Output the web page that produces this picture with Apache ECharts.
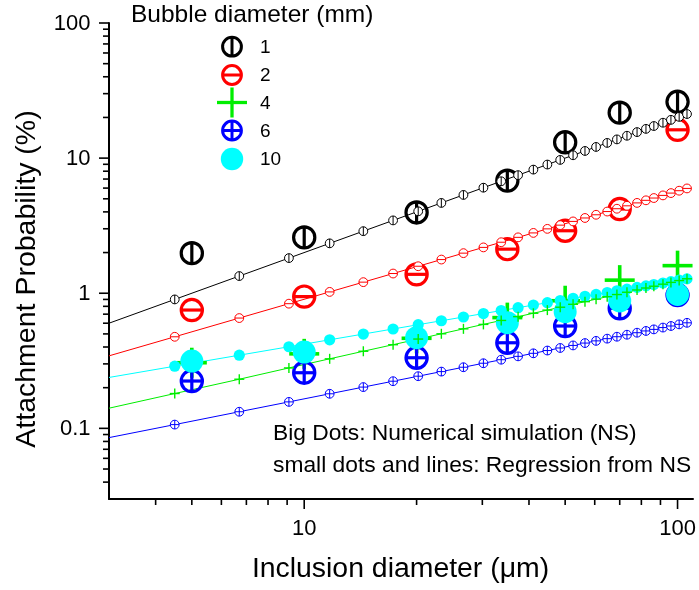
<!DOCTYPE html>
<html>
<head>
<meta charset="utf-8">
<script src="https://cdn.jsdelivr.net/npm/echarts@6/dist/echarts.min.js"></script>
<style>
  html, body { margin: 0; padding: 0; background: #fff; }
  #chart { width: 699px; height: 590px; }
</style>
</head>
<body>
<div id="chart"></div>
<script>
const FONT = '"Liberation Sans", Arial, Helvetica, sans-serif';

// Axis ranges
const X_MIN = 3, X_MAX = 110;
const Y_MIN = 0.03, Y_MAX = 100;

// Tick values and labels
const xMajorTicks = [10, 100];
const xMajorLabels = ['10', '100'];
const xMinorTicks = [4, 5, 6, 7, 8, 9, 20, 30, 40, 50, 60, 70, 80, 90];
const yMajorTicks = [0.1, 1, 10, 100];
const yMajorLabels = ['0.1', '1', '10', '100'];
const yMinorTicks = [0.04, 0.05, 0.06, 0.07, 0.08, 0.09,
                     0.2, 0.3, 0.4, 0.5, 0.6, 0.7, 0.8, 0.9,
                     2, 3, 4, 5, 6, 7, 8, 9,
                     20, 30, 40, 50, 60, 70, 80, 90];

// Bubble diameters (mm)
const bubbleNames = ['1', '2', '4', '6', '10'];

// Numerical simulation: inclusion diameter (µm) and attachment probability (%)
const nsX = [5, 10, 20, 35, 50, 70, 100];
const ns1 = [1.98, 2.59, 3.96, 6.81, 13.1, 21.7, 26.1];
const ns2 = [0.751, 0.944, 1.38, 2.12, 2.90, 4.20, 16.2];
const ns4 = [0.306, 0.356, 0.464, 0.66, 0.88, 1.25, 1.6];
const ns6 = [0.224, 0.258, 0.333, 0.430, 0.572, 0.774, 0.97];
const ns10 = [0.315, 0.367, 0.469, 0.605, 0.73, 0.877, 0.98];

// Regression from the simulation: sample points along each curve
const regX = [4.5, 6.7, 9.1, 11.7, 14.4, 17.3, 20.2, 23.3, 26.7, 30.2, 33.7, 37.4, 41.1, 44.8,
              48.5, 52.5, 56.5, 60.5, 64.8, 68.8, 73.2, 77.9, 82.3, 86.4, 91.4, 96.0, 101, 106];
const reg1 = [0.9, 1.34, 1.82, 2.34, 2.88, 3.46, 4.04, 4.66, 5.34, 6.04, 6.74, 7.48, 8.22, 8.96,
              9.7, 10.5, 11.3, 12.1, 12.96, 13.76, 14.64, 15.58, 16.46, 17.28, 18.28, 19.2, 20.2, 21.2];
const reg2 = [0.476, 0.655, 0.837, 1.023, 1.208, 1.399, 1.584, 1.775, 1.980, 2.184, 2.385, 2.592, 2.795, 2.995,
              3.191, 3.400, 3.606, 3.808, 4.023, 4.221, 4.436, 4.662, 4.872, 5.065, 5.298, 5.510, 5.739, 5.965];
const reg4 = [0.181, 0.231, 0.280, 0.327, 0.372, 0.416, 0.458, 0.501, 0.545, 0.588, 0.629, 0.671, 0.711, 0.750,
              0.788, 0.828, 0.866, 0.904, 0.943, 0.978, 1.017, 1.057, 1.093, 1.127, 1.167, 1.203, 1.241, 1.279];
const reg6 = [0.1066, 0.1327, 0.157, 0.1802, 0.202, 0.2233, 0.2432, 0.263, 0.2834, 0.3033, 0.3221, 0.3411, 0.3592, 0.3766,
              0.3934, 0.4109, 0.4277, 0.4441, 0.4611, 0.4766, 0.4931, 0.5103, 0.5259, 0.5401, 0.557, 0.5722, 0.5884, 0.6042];
const reg10 = [0.2884, 0.3479, 0.4018, 0.4523, 0.4988, 0.5438, 0.585, 0.6256, 0.6671, 0.707, 0.7444, 0.7818, 0.8173, 0.8512,
               0.8836, 0.9172, 0.9495, 0.9806, 1.0129, 1.0419, 1.0727, 1.1046, 1.1336, 1.1599, 1.191, 1.2188, 1.2483, 1.2771];
// Where each regression line meets the left axis (x = X_MIN)
const regAtXMin = [0.6, 0.344, 0.141, 0.0854, 0.238];

const colors = ['#000000', '#ff0000', '#00ee00', '#0000ff', '#00ffff'];
const kinds = ['vbar', 'hbar', 'plus', 'cross', 'dot'];
const nsData = [ns1, ns2, ns4, ns6, ns10];
const regData = [reg1, reg2, reg4, reg6, reg10];

// Symbol sizes
const BIG = { r: 10.6, lw: 3.2, arm: 15, lwPlus: 3.6, dotR: 11.5, fill: 'none' };
const SMALL = { r: 4.4, lw: 1, arm: 5, lwPlus: 1.4, dotR: 5.6, fill: '#ffffff' };
const LEG = { r: 9.4, lw: 3, arm: 15, lwPlus: 3.3, dotR: 11.2, fill: 'none' };

function drawSymbol(kind, cx, cy, color, s) {
  const out = [];
  if (kind === 'dot') {
    out.push({ type: 'circle', shape: { cx, cy, r: s.dotR }, style: { fill: color, stroke: null } });
    return out;
  }
  const lw = kind === 'plus' ? s.lwPlus : s.lw;
  if (kind !== 'plus') {
    out.push({ type: 'circle', shape: { cx, cy, r: s.r }, style: { fill: s.fill, stroke: color, lineWidth: s.lw } });
  }
  const h = kind === 'plus' ? s.arm : s.r;
  if (kind === 'vbar' || kind === 'plus' || kind === 'cross') {
    out.push({ type: 'line', shape: { x1: cx, y1: cy - h, x2: cx, y2: cy + h }, style: { stroke: color, lineWidth: lw } });
  }
  if (kind === 'hbar' || kind === 'plus' || kind === 'cross') {
    out.push({ type: 'line', shape: { x1: cx - h, y1: cy, x2: cx + h, y2: cy }, style: { stroke: color, lineWidth: lw } });
  }
  return out;
}

function markerSeries(xs, ys, kind, color, size, z) {
  return {
    type: 'custom', silent: true, animation: false, z: z,
    data: xs.map((x, i) => [x, ys[i]]),
    renderItem: (params, api) => {
      const p = api.coord([api.value(0), api.value(1)]);
      return { type: 'group', children: drawSymbol(kind, p[0], p[1], color, size) };
    }
  };
}

function tickSeries(values, labels, isX, len) {
  return {
    type: 'custom', silent: true, animation: false, z: 10,
    data: values.map(v => isX ? [v, Y_MIN] : [X_MIN, v]),
    renderItem: (params, api) => {
      const c = api.coord([api.value(0), api.value(1)]);
      const kids = [];
      if (isX) {
        kids.push({ type: 'line', shape: { x1: c[0], y1: c[1], x2: c[0], y2: c[1] + len }, style: { stroke: '#000', lineWidth: 1.6 } });
      } else {
        kids.push({ type: 'line', shape: { x1: c[0] - len, y1: c[1], x2: c[0], y2: c[1] }, style: { stroke: '#000', lineWidth: 1.6 } });
      }
      if (labels) {
        const t = labels[params.dataIndex];
        kids.push(isX
          ? { type: 'text', x: c[0], y: c[1] + 29.5, style: { text: t, fontSize: 22, fontFamily: FONT, fill: '#000', align: 'center', verticalAlign: 'middle' } }
          : { type: 'text', x: c[0] - 18.5, y: c[1] + 1, style: { text: t, fontSize: 22, fontFamily: FONT, fill: '#000', align: 'right', verticalAlign: 'middle' } });
      }
      return { type: 'group', children: kids };
    }
  };
}

const series = [];
// Regression lines
for (let k = 0; k < 5; k++) {
  series.push({
    type: 'line', silent: true, animation: false, z: 2,
    symbol: 'none',
    data: [[X_MIN, regAtXMin[k]]].concat(regX.map((x, i) => [x, regData[k][i]])),
    lineStyle: { color: colors[k], width: 1 }
  });
}
// Simulation points (big symbols)
for (let k = 0; k < 5; k++) {
  series.push(markerSeries(nsX, nsData[k], kinds[k], colors[k], BIG, 3 + k * 0.1));
}
// Regression sample points (small symbols)
const smallOrder = [4, 3, 2, 1, 0];
smallOrder.forEach((k, j) => {
  series.push(markerSeries(regX, regData[k], kinds[k], colors[k], SMALL, 4 + j * 0.1));
});
// Axis ticks and labels
series.push(tickSeries(xMajorTicks, xMajorLabels, true, 10));
series.push(tickSeries(xMinorTicks, null, true, 6));
series.push(tickSeries(yMajorTicks, yMajorLabels, false, 10));
series.push(tickSeries(yMinorTicks, null, false, 6));

// Legend key
const legendItems = [];
const legendY = [46.7, 75, 102.5, 130.5, 159];
for (let k = 0; k < 5; k++) {
  legendItems.push({ type: 'group', children: drawSymbol(kinds[k], 232, legendY[k], colors[k], LEG) });
  legendItems.push({ type: 'text', x: 260, y: legendY[k] + 1,
    style: { text: bubbleNames[k], fontSize: 19, fontFamily: FONT, fill: '#000', align: 'left', verticalAlign: 'middle' } });
}

const texts = [
  { type: 'text', x: 131, y: 15.5, style: { text: 'Bubble diameter (mm)', fontSize: 24.5, fontFamily: FONT, fill: '#000', align: 'left', verticalAlign: 'middle' } },
  { type: 'text', x: 273, y: 434, style: { text: 'Big Dots: Numerical simulation (NS)', fontSize: 22.8, fontFamily: FONT, fill: '#000', align: 'left', verticalAlign: 'middle' } },
  { type: 'text', x: 273, y: 465.5, style: { text: 'small dots and lines: Regression from NS', fontSize: 22.8, fontFamily: FONT, fill: '#000', align: 'left', verticalAlign: 'middle' } },
  { type: 'text', x: 400.5, y: 569, style: { text: 'Inclusion diameter (\u03bcm)', fontSize: 28.4, fontFamily: FONT, fill: '#000', align: 'center', verticalAlign: 'middle' } },
  { type: 'text', x: 27, y: 279, rotation: Math.PI / 2, style: { text: 'Attachment Probability (%)', fontSize: 28.5, fontFamily: FONT, fill: '#000', align: 'center', verticalAlign: 'middle' } }
];

const chart = echarts.init(document.getElementById('chart'), null, { renderer: 'canvas' });
chart.setOption({
  animation: false,
  backgroundColor: '#ffffff',
  textStyle: { fontFamily: FONT },
  grid: { left: 109, top: 23, width: 584, height: 476, containLabel: false, outerBoundsMode: 'none' },
  xAxis: {
    type: 'log', logBase: 10, min: X_MIN, max: X_MAX,
    axisLine: { show: true, onZero: false, lineStyle: { color: '#000', width: 2 } },
    axisTick: { show: false }, axisLabel: { show: false }, splitLine: { show: false }
  },
  yAxis: {
    type: 'log', logBase: 10, min: Y_MIN, max: Y_MAX,
    axisLine: { show: true, onZero: false, lineStyle: { color: '#000', width: 2 } },
    axisTick: { show: false }, axisLabel: { show: false }, splitLine: { show: false }
  },
  series: series,
  graphic: legendItems.concat(texts)
});
</script>
</body>
</html>
